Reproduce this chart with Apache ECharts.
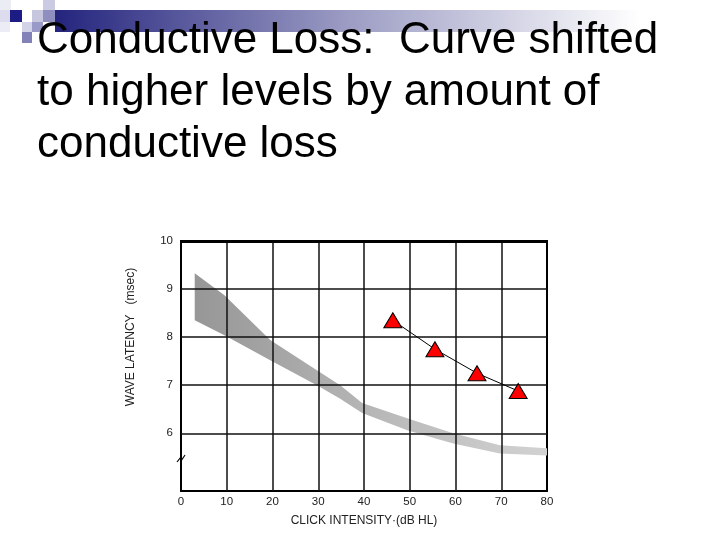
<!DOCTYPE html>
<html><head><meta charset="utf-8">
<script src="https://cdn.jsdelivr.net/npm/echarts@6/dist/echarts.min.js"></script>
<style>html,body{margin:0;padding:0;background:#fff}#c{width:720px;height:540px}</style>
</head><body><div id="c"></div>
<script>
// ---- data ----
var titleLines = ["Conductive Loss:  Curve shifted", "to higher levels by amount of", "conductive loss"];
var xTicks = [0, 10, 20, 30, 40, 50, 60, 70, 80];
var xGridLines = [10, 20, 30, 40, 50, 60, 70];
var yTickLabels = [6, 7, 8, 9, 10];
var yGridLines = [6, 7, 8, 9];
var xAxisName = "CLICK INTENSITY\u00b7(dB HL)";
var yAxisName = "WAVE LATENCY   (msec)";
// normal-hearing band (upper and lower edges)
var bandX     = [3,    9.5,  19.5, 29.7, 34.8, 39.6, 49.6, 59.5, 69.7, 80];
var bandUpper = [9.33, 8.87, 7.94, 7.31, 7.0,  6.63, 6.31, 6.0,  5.75, 5.69];
var bandLower = [8.35, 8.04, 7.52, 7.0,  6.72, 6.42, 6.06, 5.79, 5.58, 5.54];
// conductive loss patient
var lossX = [46.3, 55.5, 64.7, 73.7];
var lossY = [8.35, 7.75, 7.25, 6.88];

var chart = echarts.init(document.getElementById('c'));

var squares = [
  [0, 0, 11, 10, '#ececf5'], [0, 10, 10, 12, '#dcdcee'], [0, 22, 10, 10, '#ececf6'],
  [10, 10, 12, 12, '#1c1c84'], [43, 0, 12, 10, '#cacae2'],
  [32, 10, 11, 12, '#c6c6df'], [43, 10, 12, 12, '#8e8ebf'],
  [22, 22, 10, 10, '#d2d2e8'], [32, 22, 11, 10, '#9a9ac8'], [22, 32, 10, 11, '#8282b8']
];
var graphics = [{
  type: 'rect', left: 55, top: 10, z: 1,
  shape: { width: 650, height: 22 },
  style: { fill: new echarts.graphic.LinearGradient(0, 0, 1, 0, [
    { offset: 0, color: '#24247e' }, { offset: 0.45, color: '#9c9cc4' }, { offset: 0.9, color: '#ffffff' }, { offset: 1, color: '#ffffff' }]) }
}];
squares.forEach(function (s) {
  graphics.push({ type: 'rect', left: s[0], top: s[1], z: 2, shape: { width: s[2], height: s[3] }, style: { fill: s[4] } });
});
titleLines.forEach(function (t, i) {
  graphics.push({ type: 'text', left: 37, top: 19 + i * 52, z: 10,
    style: { text: t, font: '44px "Liberation Sans", Arial, sans-serif', fill: '#000' } });
});
// y axis title
graphics.push({ type: 'text', x: 131, y: 337, rotation: Math.PI / 2, z: 10,
  style: { text: yAxisName, font: '12px "Liberation Sans", Arial, sans-serif', fill: '#222', align: 'center', verticalAlign: 'middle' } });
// axis break mark
graphics.push({ type: 'polyline', z: 10, shape: { points: [[177, 462], [181, 457], [181, 461], [185, 455]] },
  style: { stroke: '#000', lineWidth: 1.2, fill: null } });

chart.setOption({
  animation: false,
  graphic: graphics,
  grid: { left: 181, right: 173, top: 241, bottom: 49, show: true, borderColor: '#000', borderWidth: 2 },
  xAxis: {
    type: 'value', min: 0, max: 80, interval: 10,
    name: xAxisName, nameLocation: 'middle', nameGap: 24,
    nameTextStyle: { fontFamily: 'Liberation Sans', fontSize: 12, color: '#222' },
    axisLine: { lineStyle: { color: '#000', width: 2 } },
    axisTick: { show: false },
    axisLabel: { fontFamily: 'Liberation Sans', fontSize: 11.5, color: '#222', margin: 5,
      formatter: function (v) { return xTicks.indexOf(v) >= 0 ? String(v) : ''; } },
    splitLine: { show: false }
  },
  yAxis: {
    type: 'value', min: 4.8, max: 10, interval: 0.2,
    axisLine: { lineStyle: { color: '#000', width: 2 } },
    axisTick: { show: false },
    axisLabel: { fontFamily: 'Liberation Sans', fontSize: 11.5, color: '#222', margin: 8,
      formatter: function (v) {
        for (var i = 0; i < yTickLabels.length; i++) if (Math.abs(v - yTickLabels[i]) < 1e-6) return String(yTickLabels[i]);
        return '';
      } },
    splitLine: { show: false }
  },
  series: [
    {
      type: 'custom', silent: true, z: 1,
      data: [0],
      renderItem: function (params, api) {
        var pts = [];
        for (var i = 0; i < bandX.length; i++) pts.push(api.coord([bandX[i], bandUpper[i]]));
        for (var j = bandX.length - 1; j >= 0; j--) pts.push(api.coord([bandX[j], bandLower[j]]));
        return { type: 'polygon', shape: { points: pts },
          style: { fill: new echarts.graphic.LinearGradient(0, 0, 1, 0, [
            { offset: 0, color: '#979797' }, { offset: 0.3, color: '#a9a9a9' }, { offset: 0.6, color: '#bdbdbd' }, { offset: 1, color: '#d2d2d2' }]), stroke: null } };
      }
    },
    {
      type: 'line', silent: true, data: [], z: 2,
      markLine: { symbol: 'none', silent: true, label: { show: false },
        lineStyle: { color: '#111', width: 1.5, type: 'solid' },
        data: yGridLines.map(function (y) { return { yAxis: y }; })
          .concat(xGridLines.map(function (x) { return { xAxis: x }; }))
          .concat([{ yAxis: 10, lineStyle: { width: 3, color: '#000' } }]) }
    },
    {
      type: 'line', z: 5,
      data: lossX.map(function (x, i) { return [x, lossY[i]]; }),
      symbol: 'triangle', symbolSize: [18, 15], symbolKeepAspect: true,
      lineStyle: { color: '#000', width: 1 },
      itemStyle: { color: '#ff0000', borderColor: '#000', borderWidth: 1 }
    }
  ]
});
</script></body></html>
